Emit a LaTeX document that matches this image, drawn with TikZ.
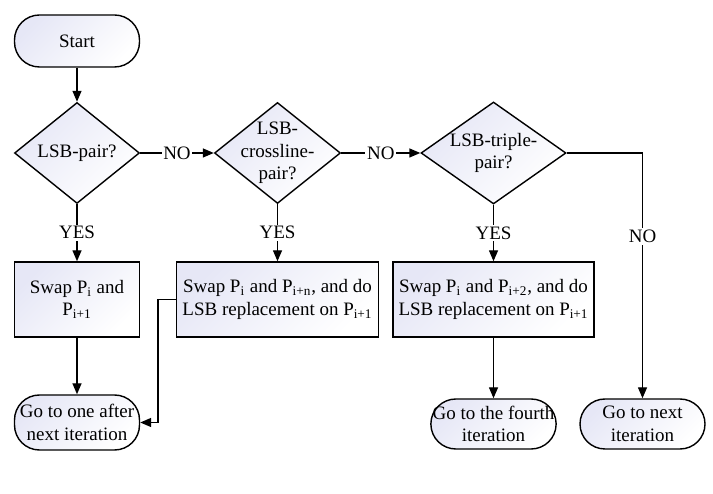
\documentclass[tikz,border=0pt]{standalone}
\usepackage{fontspec}
\setmainfont{Liberation Serif}
\usetikzlibrary{arrows.meta,shapes.geometric}
\definecolor{lav}{RGB}{230,231,246}

\begin{document}
\begin{tikzpicture}[
  every node/.style={font=\fontsize{10.8}{12.8}\selectfont},
  grad/.style={draw,line width=0.8pt,top color=lav,bottom color=white,shading angle=45},
  term/.style={grad,rounded corners=0.5cm,minimum width=2.5cm,minimum height=1.04cm,align=center,inner sep=1pt},
  dec/.style={grad,diamond,inner sep=-8pt,align=center},
  proc/.style={grad,rectangle,minimum height=1.5cm,align=center,inner sep=1pt},
  arr/.style={line width=0.8pt,-{Triangle[length=2.2mm,width=1.8mm]}},
  lbl/.style={fill=white,inner sep=1pt}
]
  \useasboundingbox (0,0) rectangle (14.26,9.88);
  % start and tests
  \node[term] (start) at (1.54,9.06) {Start};
  \node[dec,minimum width=2.5cm,minimum height=2.02cm] (d1) at (1.54,6.82) {LSB-pair?};
  \node[dec,minimum width=2.52cm,minimum height=2.02cm] (d2) at (5.55,6.82) {LSB-\\crossline-\\pair?};
  \node[dec,minimum width=2.9cm,minimum height=2.04cm] (d3) at (9.87,6.82) {LSB-triple-\\pair?};
  % actions
  \node[proc,minimum width=2.5cm] (b1) at (1.54,3.89) {Swap P\textsubscript{i} and\\P\textsubscript{i+1}};
  \node[proc,minimum width=4.04cm] (b2) at (5.55,3.89) {Swap P\textsubscript{i} and P\textsubscript{i+n}, and do\\LSB replacement on P\textsubscript{i+1}};
  \node[proc,minimum width=4.02cm] (b3) at (9.87,3.89) {Swap P\textsubscript{i} and P\textsubscript{i+2}, and do\\LSB replacement on P\textsubscript{i+1}};
  % ends
  \node[term,minimum height=1.1cm] (e1) at (1.54,1.43) {Go to one after\\next iteration};
  \node[term,minimum height=1.0cm] (e3) at (9.87,1.40) {Go to the fourth\\iteration};
  \node[term,minimum height=1.0cm] (e4) at (12.85,1.40) {Go to next\\iteration};
  % connectors
  \draw[arr] (start) -- (d1);
  \draw[arr] (d1) -- node[lbl] (no1) {NO} (d2);
  \draw[arr] (d2) -- node[lbl] (no2) {NO} (d3);
  \draw[arr] (d3.east) -| node[lbl,pos=0.67] (no3) {NO} (e4.north);
  \draw[arr] (d1) -- node[lbl] (yes1) {YES} (b1);
  \draw[arr] (d2) -- node[lbl] (yes2) {YES} (b2);
  \draw[arr] (d3) -- node[lbl] (yes3) {YES} (b3);
  \draw[arr] (b1) -- (e1);
  \draw[arr] (b2.west) -- ++(-0.36,0) |- (e1.east);
  \draw[arr] (b3) -- (e3);
\end{tikzpicture}
\end{document}
